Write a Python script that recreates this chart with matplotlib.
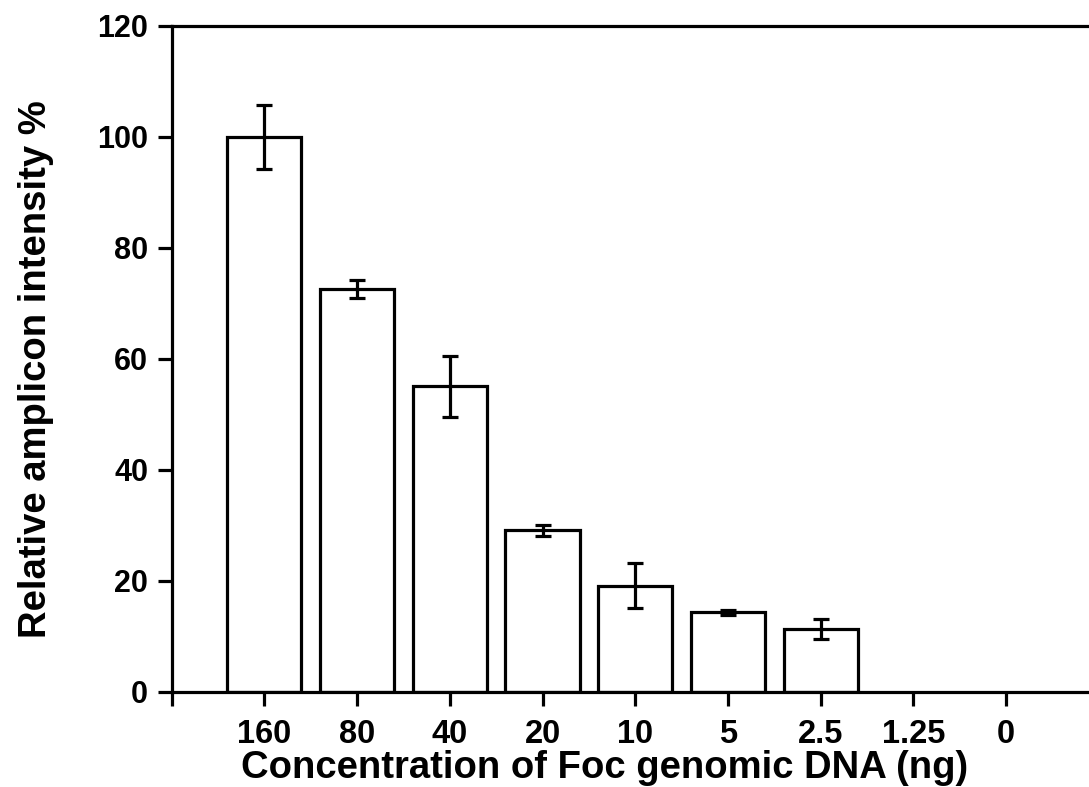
import matplotlib.pyplot as plt

# data
concentrations = ['160', '80', '40', '20', '10', '5', '2.5', '1.25', '0']
intensity = [100.0, 72.5, 55.0, 29.1, 19.1, 14.3, 11.3, 0, 0]
errors = [5.8, 1.6, 5.5, 1.0, 4.0, 0.5, 1.85, 0, 0]

plt.rcParams['font.family'] = ['Liberation Sans', 'DejaVu Sans']
plt.rcParams['font.weight'] = 'bold'

fig = plt.figure(figsize=(10.89, 7.87), dpi=100)
ax = fig.add_axes([171.7 / 1089, 1 - 691.7 / 787, 927 / 1089, 666 / 787])

positions = list(range(1, len(concentrations) + 1))
n_bars = sum(1 for v in intensity if v > 0)
ax.bar(positions[:n_bars], intensity[:n_bars], width=0.8, color='white',
       edgecolor='black', linewidth=2.3, zorder=2)
ax.errorbar(positions[:n_bars], intensity[:n_bars], yerr=errors[:n_bars],
            fmt='none', ecolor='black', elinewidth=2.3, capsize=5.5,
            capthick=2.3, zorder=3)

ax.set_xlim(0, 10)
ax.set_ylim(0, 120)
ax.set_xticks([0] + positions)
ax.set_xticklabels([''] + concentrations)
ax.set_yticks(range(0, 121, 20))

for side in ['left', 'bottom', 'top', 'right']:
    ax.spines[side].set_linewidth(2.3)

ax.tick_params(axis='x', direction='out', length=10, width=2.3, pad=10,
               labelsize=23.5)
ax.tick_params(axis='y', direction='out', length=10, width=2.3, pad=7,
               labelsize=22)
for lab in ax.get_xticklabels() + ax.get_yticklabels():
    lab.set_fontweight('bold')

ax.set_xlabel('Concentration of Foc genomic DNA (ng)', fontsize=27.5,
              fontweight='bold', labelpad=0)
ax.set_ylabel('Relative amplicon intensity %', fontsize=27.5,
              fontweight='bold', labelpad=31)
# the title-like labels sit a little off the axes centre in the reference
ax.xaxis.label.set_x(0.467)
ax.yaxis.label.set_y(0.485)

fig.savefig('out.png', dpi=100)
